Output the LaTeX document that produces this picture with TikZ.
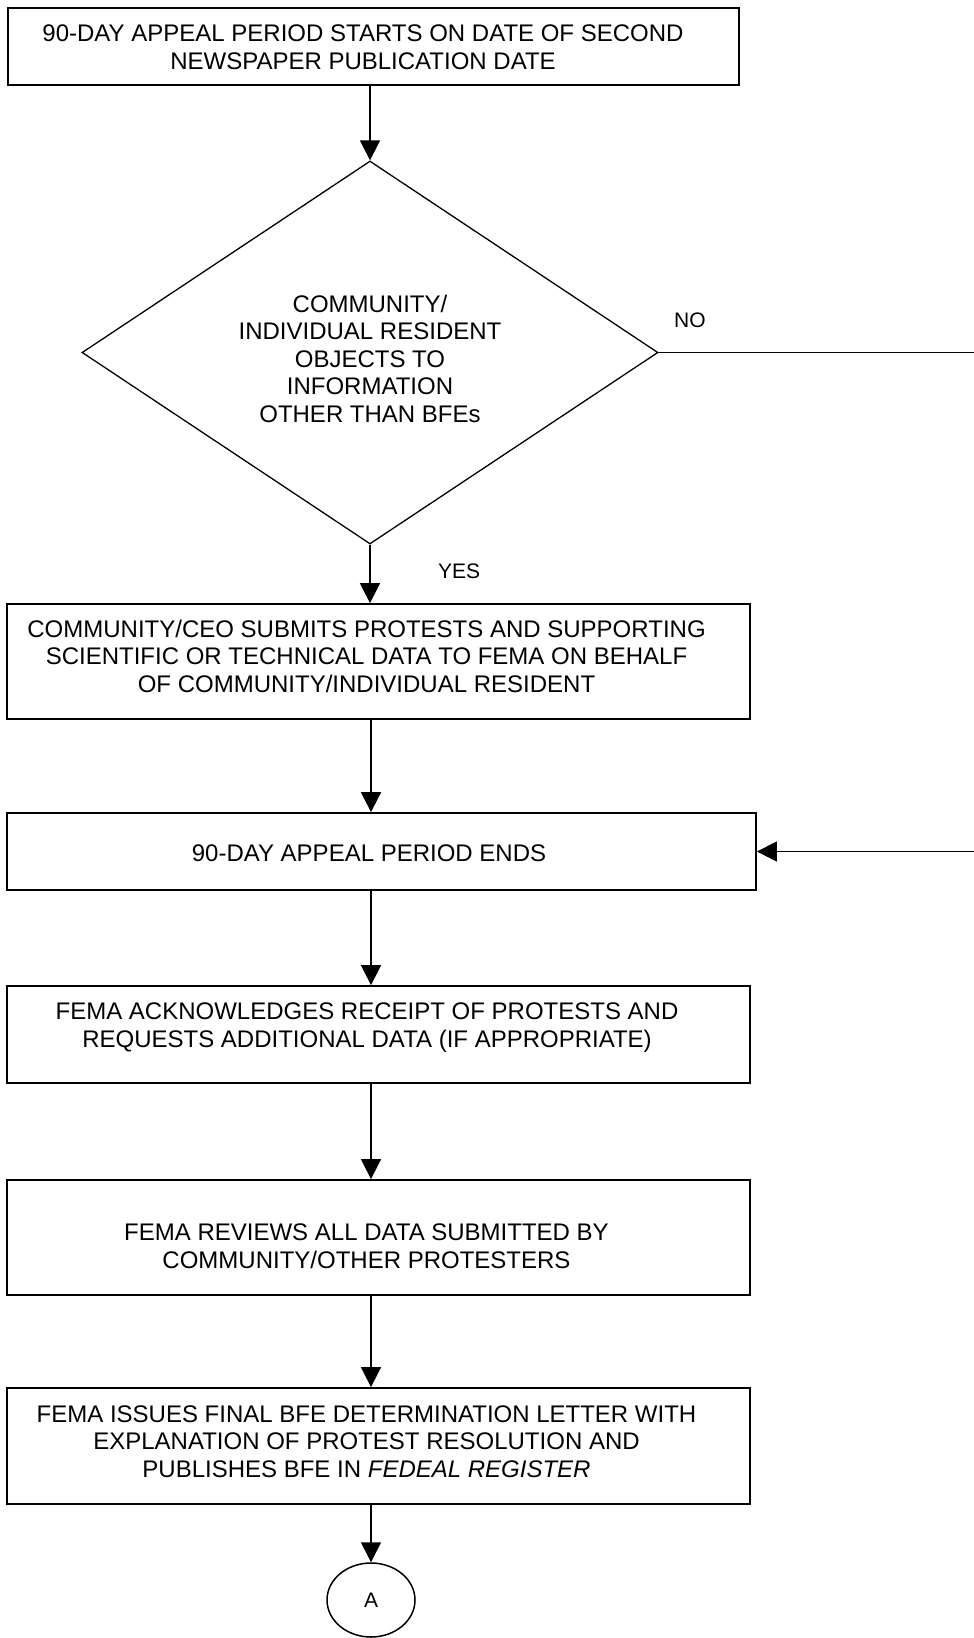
\documentclass[tikz,border=0pt]{standalone}
\usepackage{fontspec}
\setmainfont{Liberation Sans}
\usetikzlibrary{shapes.geometric,arrows.meta}
\newcommand\boxtxt[3]{\makebox[0pt]{\hspace*{#1}\raisebox{#2}[0pt][0pt]{\begin{tabular}[b]{@{}c@{}}#3\end{tabular}}}}
\begin{document}
\begin{tikzpicture}[x=1pt,y=-1pt,
  flowbox/.style={draw, rectangle, line width=1.8pt, inner sep=0pt, font=\fontsize{24}{27.6}\selectfont},
  decision/.style={draw, diamond, line width=1.3pt, inner sep=0pt, font=\fontsize{24}{27.6}\selectfont},
  conn/.style={line width=1.6pt},
  arr/.style={conn, -{Triangle[length=20pt,width=20pt]}},
  lbl/.style={font=\fontsize{21}{24}\selectfont, inner sep=0pt},
  term/.style={draw, ellipse, line width=1.5pt, inner sep=0pt, minimum width=88pt, minimum height=74pt, font=\fontsize{21}{24}\selectfont}]
\useasboundingbox (0,0) rectangle (974,1638);

\node[flowbox, minimum width=731pt, minimum height=77pt] (b1) at (373.5,46.5)
  {\boxtxt{-21pt}{-22.5pt}{90-DAY APPEAL PERIOD STARTS ON DATE OF SECOND\\NEWSPAPER PUBLICATION DATE}};

\node[decision, minimum width=576pt, minimum height=383pt] (dia) at (370,352.5)
  {\boxtxt{0pt}{-70pt}{COMMUNITY/\\INDIVIDUAL RESIDENT\\OBJECTS TO\\INFORMATION\\OTHER THAN BFEs}};

\node[flowbox, minimum width=743pt, minimum height=115pt] (b2) at (378.5,661.5)
  {\boxtxt{-24pt}{-31pt}{COMMUNITY/CEO SUBMITS PROTESTS AND SUPPORTING\\SCIENTIFIC OR TECHNICAL DATA TO FEMA ON BEHALF\\OF COMMUNITY/INDIVIDUAL RESIDENT}};

\node[flowbox, minimum width=749pt, minimum height=77pt] (b3) at (381.5,851.5)
  {\boxtxt{-25pt}{-10pt}{90-DAY APPEAL PERIOD ENDS}};

\node[flowbox, minimum width=743pt, minimum height=97pt] (b4) at (378.5,1034.5)
  {\boxtxt{-23pt}{-13pt}{FEMA ACKNOWLEDGES RECEIPT OF PROTESTS AND\\REQUESTS ADDITIONAL DATA (IF APPROPRIATE)}};

\node[flowbox, minimum width=743pt, minimum height=115pt] (b5) at (378.5,1237.5)
  {\boxtxt{-24pt}{-31pt}{FEMA REVIEWS ALL DATA SUBMITTED BY\\COMMUNITY/OTHER PROTESTERS}};

\node[flowbox, minimum width=743pt, minimum height=116pt] (b6) at (378.5,1446)
  {\boxtxt{-24pt}{-31.5pt}{FEMA ISSUES FINAL BFE DETERMINATION LETTER WITH\\EXPLANATION OF PROTEST RESOLUTION AND\\PUBLISHES BFE IN \textit{FEDEAL REGISTER}}};

\node[term] (a) at (371,1600) {A};

\coordinate (noend) at (990,352.5);
\coordinate (inend) at (990,851.5);

\draw[arr] (dia.north |- b1.south) -- (dia.north);
\draw[conn] (dia.east) -- (noend);
\node[lbl, anchor=base west] (nolbl) at (674,327) {NO};
\draw[arr] (dia.south) -- (dia.south |- b2.north);
\node[lbl, anchor=base west] (yeslbl) at (438,578) {YES};
\draw[arr] (b2.south -| a.north) -- (b3.north -| a.north);
\draw[arr] (inend) -- (b3.east);
\draw[arr] (b3.south -| a.north) -- (b4.north -| a.north);
\draw[arr] (b4.south -| a.north) -- (b5.north -| a.north);
\draw[arr] (b5.south -| a.north) -- (b6.north -| a.north);
\draw[arr] (b6.south -| a.north) -- (a.north);
\end{tikzpicture}
\end{document}
